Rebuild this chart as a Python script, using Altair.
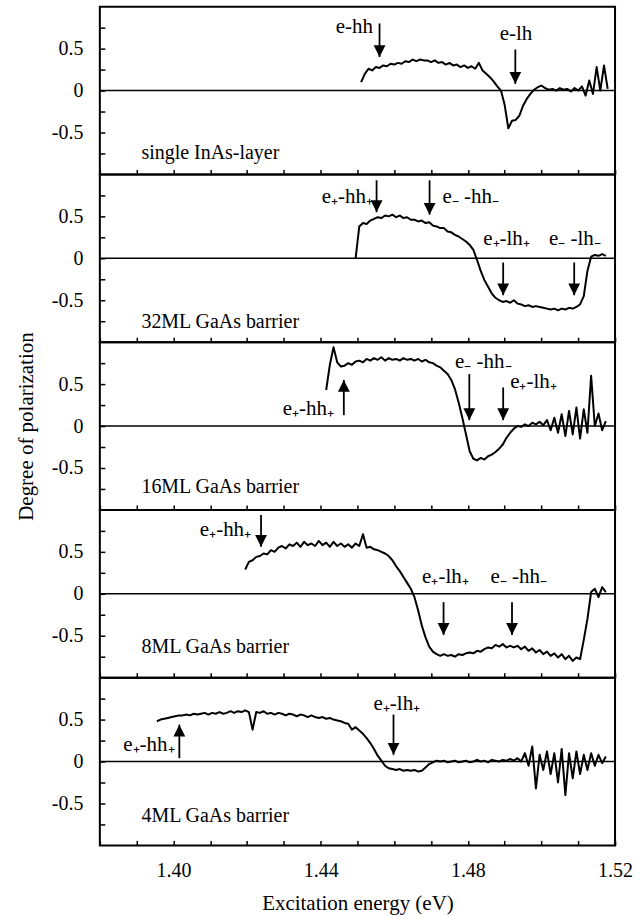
import altair as alt
import pandas as pd

FONT = "Liberation Serif"
STEP = 0.001
X_DOMAIN = [1.38, 1.52]
Y_DOMAIN = [-1.0, 1.0]
X_TICKS = [1.38, 1.39, 1.40, 1.41, 1.42, 1.43, 1.44, 1.45, 1.46, 1.47, 1.48, 1.49, 1.50, 1.51, 1.52]
Y_TICKS = [-0.75, -0.5, -0.25, 0.0, 0.25, 0.5, 0.75]

PANEL_NAMES = ["single InAs-layer", "32ML GaAs barrier", "16ML GaAs barrier",
               "8ML GaAs barrier", "4ML GaAs barrier"]
PANEL_NAME_E = 1.3913
PANEL_NAME_V = [-0.74, -0.76, -0.73, -0.64, -0.65]

SERIES_START = [1.451, 1.4495, 1.4415, 1.4195, 1.3955]

P1 = [0.10, 0.20, 0.26, 0.24, 0.28, 0.27, 0.30, 0.29, 0.32, 0.31,
      0.33, 0.32, 0.35, 0.34, 0.37, 0.35, 0.37, 0.36, 0.36, 0.34,
      0.36, 0.33, 0.34, 0.31, 0.33, 0.30, 0.31, 0.28, 0.30, 0.27,
      0.29, 0.26, 0.33, 0.24, 0.20, 0.16, 0.11, 0.05, 0.00, -0.17,
      -0.45, -0.36, -0.35, -0.30, -0.18, -0.10, -0.04, 0.01, 0.04, 0.06,
      0.03, 0.01, 0.02, 0.00, 0.03, 0.01, 0.02, -0.01, 0.03, 0.00,
      0.05, -0.06, 0.12, -0.04, 0.28, 0.00, 0.30, 0.02]

P2 = [0.00, 0.38, 0.42, 0.41, 0.45, 0.47, 0.49, 0.48, 0.51, 0.50,
      0.52, 0.49, 0.51, 0.48, 0.49, 0.46, 0.46, 0.44, 0.45, 0.42,
      0.43, 0.39, 0.38, 0.36, 0.36, 0.32, 0.31, 0.28, 0.26, 0.23,
      0.20, 0.16, 0.10, -0.02, -0.15, -0.26, -0.34, -0.42, -0.47, -0.50,
      -0.52, -0.51, -0.53, -0.50, -0.54, -0.55, -0.57, -0.56, -0.58, -0.57,
      -0.58, -0.59, -0.60, -0.61, -0.60, -0.62, -0.60, -0.61, -0.59, -0.60,
      -0.58, -0.55, -0.45, -0.15, 0.02, 0.04, 0.03, 0.05, 0.03]

P3 = [0.43, 0.73, 0.94, 0.76, 0.71, 0.72, 0.75, 0.73, 0.77, 0.78,
      0.76, 0.80, 0.78, 0.81, 0.79, 0.82, 0.78, 0.81, 0.79, 0.80,
      0.78, 0.81, 0.79, 0.80, 0.78, 0.80, 0.77, 0.79, 0.76, 0.75,
      0.72, 0.70, 0.66, 0.62, 0.55, 0.44, 0.28, 0.10, -0.10, -0.30,
      -0.39, -0.41, -0.38, -0.40, -0.36, -0.34, -0.31, -0.27, -0.22, -0.14,
      -0.08, -0.03, 0.00, -0.01, 0.02, 0.00, 0.04, 0.02, 0.05, 0.01,
      0.07, -0.05, 0.10, -0.08, 0.14, -0.12, 0.18, -0.10, 0.22, -0.15,
      0.20, -0.08, 0.60, 0.00, 0.15, -0.05, 0.06]

P4 = [0.29, 0.38, 0.40, 0.44, 0.45, 0.48, 0.47, 0.52, 0.50, 0.55,
      0.57, 0.54, 0.59, 0.57, 0.61, 0.56, 0.62, 0.58, 0.60, 0.57,
      0.63, 0.58, 0.61, 0.56, 0.62, 0.57, 0.60, 0.56, 0.59, 0.55,
      0.60, 0.57, 0.71, 0.55, 0.56, 0.53, 0.52, 0.50, 0.48, 0.45,
      0.40, 0.33, 0.27, 0.20, 0.13, 0.06, -0.04, -0.20, -0.38, -0.52,
      -0.63, -0.69, -0.72, -0.74, -0.72, -0.74, -0.73, -0.75, -0.72, -0.73,
      -0.71, -0.70, -0.71, -0.68, -0.69, -0.66, -0.64, -0.65, -0.61, -0.63,
      -0.60, -0.64, -0.62, -0.64, -0.62, -0.66, -0.63, -0.68, -0.65, -0.70,
      -0.67, -0.72, -0.69, -0.74, -0.71, -0.76, -0.72, -0.78, -0.74, -0.80,
      -0.76, -0.78, -0.55, -0.30, 0.02, 0.06, -0.04, 0.08, 0.02]

P5 = [0.48, 0.50, 0.51, 0.52, 0.53, 0.54, 0.55, 0.55, 0.56, 0.55,
      0.57, 0.56, 0.57, 0.58, 0.56, 0.58, 0.57, 0.59, 0.57, 0.58,
      0.60, 0.58, 0.60, 0.59, 0.61, 0.59, 0.38, 0.59, 0.58, 0.60,
      0.57, 0.58, 0.56, 0.58, 0.57, 0.55, 0.57, 0.56, 0.54, 0.56,
      0.55, 0.53, 0.55, 0.53, 0.52, 0.53, 0.51, 0.52, 0.50, 0.49,
      0.48, 0.46, 0.45, 0.38, 0.41, 0.37, 0.33, 0.28, 0.22, 0.15,
      0.07, 0.01, -0.05, -0.08, -0.09, -0.10, -0.09, -0.11, -0.10, -0.11,
      -0.10, -0.12, -0.11, -0.07, -0.03, -0.01, 0.01, 0.00, 0.01, -0.01,
      0.00, 0.01, -0.01, 0.00, 0.01, -0.01, 0.00, 0.02, 0.00, 0.01,
      -0.01, 0.02, 0.01, 0.00, 0.02, 0.01, 0.03, 0.01, 0.04, 0.00,
      0.10, -0.05, 0.18, -0.32, 0.08, -0.10, 0.12, -0.15, 0.10, -0.25,
      0.15, -0.40, 0.10, -0.20, 0.12, -0.15, 0.08, -0.10, 0.10, -0.05,
      0.08, -0.02, 0.06]

SERIES = [P1, P2, P3, P4, P5]

ARROW_PANEL = [0, 0, 1, 1, 1, 1, 2, 2, 2, 3, 3, 3, 4, 4]
ARROW_E = [1.4560, 1.4929, 1.4552, 1.4696, 1.4896, 1.5089, 1.4463, 1.4804, 1.4896,
           1.4238, 1.4734, 1.4920, 1.4016, 1.4598]
ARROW_TAIL = [0.80, 0.49, 0.93, 0.93, -0.05, -0.05, 0.13, 0.62, 0.46, 0.94, -0.10, -0.10, 0.04, 0.56]
ARROW_TIP = [0.40, 0.08, 0.55, 0.52, -0.44, -0.44, 0.55, 0.07, 0.07, 0.56, -0.49, -0.49, 0.44, 0.08]
ARROW_DIR = ["down", "down", "down", "down", "down", "down", "up", "down", "down",
             "down", "down", "down", "up", "down"]

LABEL_PANEL = [0, 0, 1, 1, 1, 1, 2, 2, 2, 3, 3, 3, 4, 4]
LABEL_TEXT = ["e-hh", "e-lh",
              "e\u208a-hh\u208a", "e\u208b -hh\u208b", "e\u208a-lh\u208a", "e\u208b -lh\u208b",
              "e\u208a-hh\u208a", "e\u208b -hh\u208b", "e\u208a-lh\u208a",
              "e\u208a-hh\u208a", "e\u208a-lh\u208a", "e\u208b -hh\u208b",
              "e\u208a-hh\u208a", "e\u208a-lh\u208a"]
LABEL_E = [1.4542, 1.4931, 1.4542, 1.4731, 1.4905, 1.5091, 1.4436, 1.4842, 1.4915,
           1.4211, 1.4739, 1.4938, 1.4003, 1.4607]
LABEL_V = [0.76, 0.68, 0.73, 0.73, 0.23, 0.23, 0.20, 0.76, 0.52, 0.76, 0.20, 0.20, 0.20, 0.69]
LABEL_ALIGN = ["right", "center", "right", "left", "center", "center", "right", "center", "left",
               "right", "center", "center", "right", "center"]

W, H = 516, 168
DOWN_HEAD = "M -0.5 -1 L 0.5 -1 L 0 0 Z"
UP_HEAD = "M -0.5 1 L 0.5 1 L 0 0 Z"

Y_LABEL_EXPR = ("(datum.value > 0.4 && datum.value < 0.6) ? '0.5' : "
                "(datum.value < -0.4 && datum.value > -0.6) ? '-0.5' : "
                "(abs(datum.value) < 0.1) ? '0' : ''")

arrows_all = pd.DataFrame({"panel": ARROW_PANEL, "E": ARROW_E, "P": ARROW_TAIL,
                           "P2": ARROW_TIP, "dir": ARROW_DIR})
labels_all = pd.DataFrame({"panel": LABEL_PANEL, "text": LABEL_TEXT, "E": LABEL_E,
                           "P": LABEL_V, "anchor": LABEL_ALIGN})


def make_panel(i):
    start = SERIES_START[i]
    vals = SERIES[i]
    curve = pd.DataFrame({"E": [round(start + k * STEP, 4) for k in range(len(vals))], "P": vals})
    last = i == 4
    xscale = alt.Scale(domain=X_DOMAIN, nice=False, zero=False)
    yscale = alt.Scale(domain=Y_DOMAIN, nice=False, zero=False)

    if last:
        xaxis = alt.Axis(values=X_TICKS, offset=-5, tickSize=5, domain=False, grid=False,
                         labelFlush=False, labelOverlap=False, labelPadding=15, titlePadding=12,
                         labelExpr="(round(datum.value*100) % 4 == 0) ? format(datum.value, '.2f') : ''")
        X = alt.X("E:Q", scale=xscale, axis=xaxis, title="Excitation energy (eV)")
    else:
        xaxis = alt.Axis(values=X_TICKS, offset=-5, tickSize=5, domain=False, grid=False,
                         labels=False)
        X = alt.X("E:Q", scale=xscale, axis=xaxis, title=None)

    yaxis = alt.Axis(values=Y_TICKS, offset=-5, tickSize=5, domain=False, grid=False,
                     labelPadding=17, titlePadding=15, labelOverlap=False,
                     labelExpr=Y_LABEL_EXPR)

    def mk_y(field):
        if i == 2:
            return alt.Y(field, scale=yscale, axis=yaxis, title="Degree of polarization")
        return alt.Y(field, scale=yscale, axis=yaxis, title=None)

    Y = mk_y("P:Q")

    zero = alt.Chart(pd.DataFrame({"P": [0.0]})).mark_rule(color="black", strokeWidth=1.5).encode(y=Y)
    line = alt.Chart(curve).mark_line(color="black", strokeWidth=2.0,
                                      strokeJoin="round").encode(x=X, y=Y)

    arr = arrows_all[arrows_all["panel"] == i]
    shafts = alt.Chart(arr).mark_rule(color="black", strokeWidth=1.8).encode(
        x=X, y=Y, y2=alt.Y2("P2:Q"))
    heads = alt.Chart(arr).mark_point(filled=True, color="black", opacity=1, size=560,
                                      strokeWidth=0).encode(
        x=X, y=mk_y("P2:Q"),
        shape=alt.Shape("dir:N", scale=alt.Scale(domain=["down", "up"], range=[DOWN_HEAD, UP_HEAD]),
                        legend=None))

    layers = [zero, line, shafts, heads]
    lab = labels_all[labels_all["panel"] == i]
    for al in ["left", "center", "right"]:
        sub = lab[lab["anchor"] == al]
        if len(sub):
            layers.append(alt.Chart(sub).mark_text(align=al, baseline="middle", font=FONT,
                                                   fontSize=21, color="black").encode(
                x=X, y=Y, text="text:N"))

    name = pd.DataFrame({"E": [PANEL_NAME_E], "P": [PANEL_NAME_V[i]], "text": [PANEL_NAMES[i]]})
    layers.append(alt.Chart(name).mark_text(align="left", baseline="middle", font=FONT,
                                            fontSize=20, color="black").encode(
        x=X, y=Y, text="text:N"))

    return alt.layer(*layers).properties(width=W, height=H)


chart = alt.vconcat(*[make_panel(i) for i in range(5)], spacing=0, bounds="flush").properties(
    padding={"left": 14, "right": 10, "top": 5, "bottom": 0},
    background="white",
).configure_view(
    stroke="black", strokeWidth=2
).configure_axis(
    labelFont=FONT, titleFont=FONT, labelFontSize=20, titleFontSize=21,
    titleFontWeight="normal", labelColor="black", titleColor="black",
    tickColor="black", tickWidth=1.5
).configure_concat(spacing=0)

chart.save("out.html", embed_options={"renderer": "svg", "actions": False})
